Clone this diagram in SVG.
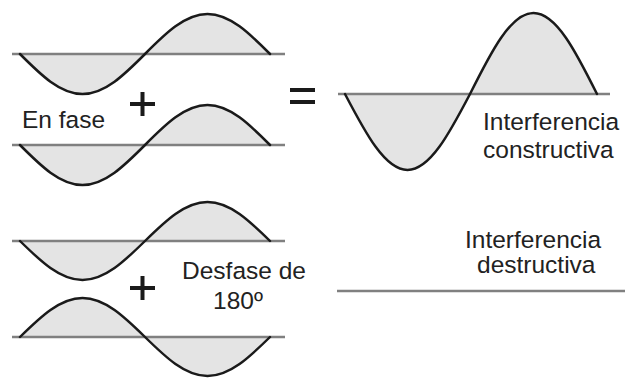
<svg xmlns="http://www.w3.org/2000/svg" xmlns:xlink="http://www.w3.org/1999/xlink" width="626" height="379" viewBox="0 0 626 379">
<style>
.axis{stroke:#808080;stroke-width:2.5;fill:none}
.fill{fill:#e4e4e4;stroke:none}
.curve{stroke:#1a1a1a;stroke-width:2.5;fill:none;stroke-linecap:round}
.sym{stroke:#1a1a1a;stroke-width:4;fill:none}
text{font-family:"Liberation Sans",Arial,sans-serif;font-size:24.5px;fill:#222}
</style>
<defs>
<path id="wf" d="M0,0 C20.38,20.49 40,40 62.5,40 C85,40 104.62,20.49 125,0 C145.38,-20.49 165,-40 187.5,-40 C210,-40 229.62,-20.49 250,0 Z"/>
<path id="wc" d="M0,0 C20.38,20.49 40,40 62.5,40 C85,40 104.62,20.49 125,0 C145.38,-20.49 165,-40 187.5,-40 C210,-40 229.62,-20.49 250,0"/>
</defs>
<g id="wave1">
<use xlink:href="#wf" class="fill" transform="translate(20,54)"/>
<line class="axis" x1="12" y1="54" x2="285" y2="54"/>
<use xlink:href="#wc" class="curve" transform="translate(20,54)"/>
</g>
<g id="wave2">
<use xlink:href="#wf" class="fill" transform="translate(20,145)"/>
<line class="axis" x1="12" y1="145" x2="285" y2="145"/>
<use xlink:href="#wc" class="curve" transform="translate(20,145)"/>
</g>
<g id="plus1"><path class="sym" d="M130,104 H155 M142.5,92 V116"/></g>
<g id="equals"><path class="sym" d="M290,90 H315 M290,102 H315"/></g>
<g id="label-enfase"><text x="22" y="128">En fase</text></g>
<g id="constructive">
<path class="fill" d="M345,94 C365.38,132.93 385,170 407.5,170 C430,170 449.62,132.93 470,94 C490.71,52.5 510.63,13 533.5,13 C556.37,13 576.29,52.5 597,94 Z"/>
<line class="axis" x1="338" y1="94" x2="610" y2="94"/>
<path class="curve" d="M345,94 C365.38,132.93 385,170 407.5,170 C430,170 449.62,132.93 470,94 C490.71,52.5 510.63,13 533.5,13 C556.37,13 576.29,52.5 597,94"/>
<text x="483" y="130">Interferencia</text>
<text x="483" y="158">constructiva</text>
</g>
<g id="wave3">
<use xlink:href="#wf" class="fill" transform="translate(20,241) scale(1,0.975)"/>
<line class="axis" x1="12" y1="241" x2="285" y2="241"/>
<use xlink:href="#wc" class="curve" transform="translate(20,241) scale(1,0.975)"/>
</g>
<g id="wave4">
<use xlink:href="#wf" class="fill" transform="translate(20,337) scale(1,-0.975)"/>
<line class="axis" x1="12" y1="337" x2="285" y2="337"/>
<use xlink:href="#wc" class="curve" transform="translate(20,337) scale(1,-0.975)"/>
</g>
<g id="plus2"><path class="sym" d="M130,288 H155 M142.5,276 V300"/></g>
<g id="label-desfase">
<text x="182" y="279">Desfase de</text>
<text x="213" y="309">180º</text>
</g>
<g id="destructive">
<text x="465" y="248">Interferencia</text>
<text x="477" y="273">destructiva</text>
<line class="axis" x1="337" y1="291" x2="625" y2="291"/>
</g>
</svg>
